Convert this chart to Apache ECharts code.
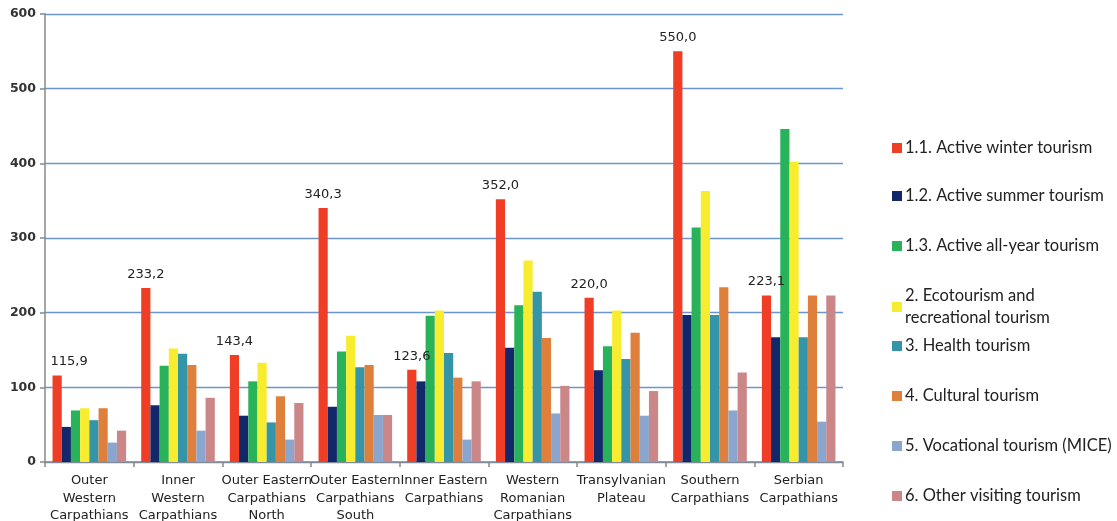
<!DOCTYPE html>
<html>
<head>
<meta charset="utf-8">
<script src="https://cdn.jsdelivr.net/npm/echarts@6/dist/echarts.min.js"></script>
<style>
html,body{margin:0;padding:0;background:#fff;}
#chart{width:1117px;height:521px;}
</style>
</head>
<body>
<div id="chart"></div>
<script>
const categories = [
  "Outer\nWestern\nCarpathians",
  "Inner\nWestern\nCarpathians",
  "Outer Eastern\nCarpathians\nNorth",
  "Outer Eastern\nCarpathians\nSouth",
  "Inner Eastern\nCarpathians",
  "Western\nRomanian\nCarpathians",
  "Transylvanian\nPlateau",
  "Southern\nCarpathians",
  "Serbian\nCarpathians"
];
const seriesNames = [
  "1.1. Active winter tourism",
  "1.2. Active summer tourism",
  "1.3. Active all-year tourism",
  "2. Ecotourism and\nrecreational tourism",
  "3. Health tourism",
  "4. Cultural tourism",
  "5. Vocational tourism (MICE)",
  "6. Other visiting tourism"
];
const activeWinter   = [115.9, 233.2, 143.4, 340.3, 123.6, 352.0, 220.0, 550.0, 223.1];
const activeSummer   = [47, 76, 62, 74, 108, 153, 123, 197, 167];
const activeAllYear  = [69, 129, 108, 148, 196, 210, 155, 314, 446];
const ecotourism     = [72, 152, 133, 169, 203, 270, 203, 363, 402];
const health         = [56, 145, 53, 127, 146, 228, 138, 197, 167];
const cultural       = [72, 130, 88, 130, 113, 166, 173, 234, 223];
const vocational     = [26, 42, 30, 63, 30, 65, 62, 69, 54];
const otherVisiting  = [42, 86, 79, 63, 108, 102, 95, 120, 223];
const yTicks = [0, 100, 200, 300, 400, 500, 600];

const seriesData = [activeWinter, activeSummer, activeAllYear, ecotourism, health, cultural, vocational, otherVisiting];
const colors = ["#EF3E25", "#13286B", "#28B35A", "#F7EC2E", "#3494A8", "#DE803C", "#8AA6CF", "#CB8687"];
const legendCenters = [148, 196, 246, 307, 346, 396, 446, 496];

const series = seriesData.map((d, i) => {
  const s = {
    name: seriesNames[i],
    type: 'bar',
    data: d,
    itemStyle: { color: colors[i] },
    barGap: '0%',
    barCategoryGap: '17%'
  };
  if (i === 0) {
    s.data = d.map((v, j) => j === 0 ? { value: v, label: { offset: [12, 0] } } : v);
    s.label = {
      show: true,
      position: 'top',
      distance: 7,
      fontFamily: 'DejaVu Sans',
      fontSize: 13,
      color: '#222',
      formatter: p => p.value.toFixed(1).replace('.', ',')
    };
  }
  return s;
});

const legends = seriesNames.map((n, i) => {
  const lines = n.split('\n').length;
  return {
    data: [n],
    orient: 'vertical',
    left: 892,
    top: legendCenters[i] - 11 * lines,
    padding: 0,
    itemWidth: 10,
    itemHeight: 10,
    itemGap: 0,
    icon: 'rect',
    selectedMode: false,
    textStyle: { fontFamily: 'Lato', fontSize: 16.5, color: '#222', padding: [0, 0, 0, -2], lineHeight: 22 }
  };
});

const chart = echarts.init(document.getElementById('chart'));
chart.setOption({
  animation: false,
  backgroundColor: '#fff',
  legend: legends,
  grid: { left: 45, right: 274, top: 14, bottom: 59, containLabel: false, outerBoundsMode: 'none' },
  xAxis: {
    type: 'category',
    data: categories,
    axisLine: { lineStyle: { color: '#888', width: 1.5 } },
    axisTick: { show: true, length: 5, lineStyle: { color: '#888', width: 1.5 } },
    axisLabel: { interval: 0, margin: 10, fontFamily: 'DejaVu Sans', fontSize: 13, color: '#222', lineHeight: 17.5 }
  },
  yAxis: {
    type: 'value',
    min: yTicks[0],
    max: yTicks[yTicks.length - 1],
    interval: 100,
    axisLine: { show: true, lineStyle: { color: '#888', width: 1.5 } },
    axisTick: { show: true, length: 5, lineStyle: { color: '#888', width: 1.5 } },
    axisLabel: { margin: 9, fontFamily: 'DejaVu Sans', fontSize: 12.5, fontWeight: 'bold', color: '#333' },
    splitLine: { lineStyle: { color: '#6a96cd', width: 1.3 } }
  },
  series: series
});
</script>
</body>
</html>
